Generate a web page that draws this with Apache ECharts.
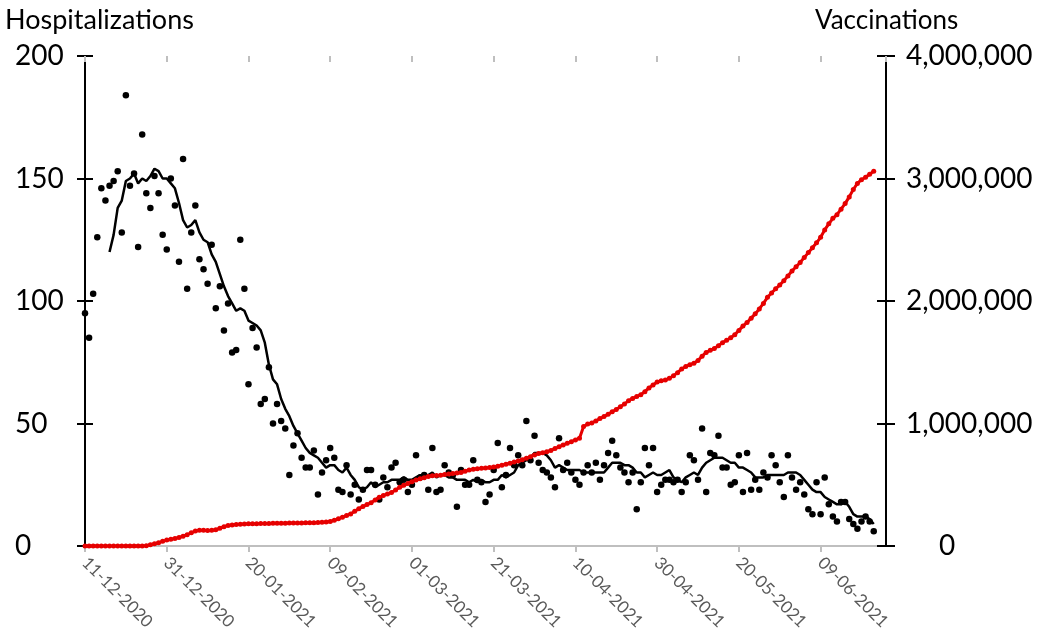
<!DOCTYPE html>
<html>
<head>
<meta charset="utf-8">
<script src="https://cdn.jsdelivr.net/npm/echarts@6/dist/echarts.min.js"></script>
<style>html,body{margin:0;padding:0;background:#fff}#c{width:1046px;height:635px}</style>
</head>
<body>
<div id="c"></div>
<script>
// x tick labels (every 20 days starting 11-12-2020)
var tickLabels = ['11-12-2020','31-12-2020','20-01-2021','09-02-2021','01-03-2021','21-03-2021','10-04-2021','30-04-2021','20-05-2021','09-06-2021'];

// daily hospitalizations, day 0 = 11-12-2020
var hospitalizations = [
95,85,103,126,146,141,147,149,153,128,184,147,152,122,168,144,138,151,144,127,
121,150,139,116,158,105,128,139,117,113,107,123,97,106,88,99,79,80,125,105,
66,89,81,58,60,73,50,58,51,48,29,41,46,36,32,32,39,21,30,35,
40,36,23,22,33,21,25,19,23,31,31,25,19,28,24,32,34,26,27,22,
25,37,28,29,23,40,22,23,33,30,29,16,31,25,25,35,27,26,18,21,
31,42,24,29,40,33,37,33,51,35,45,34,31,30,28,24,44,31,34,30,
27,25,30,33,30,34,27,33,38,43,37,32,30,26,30,15,26,40,33,40,
22,25,27,27,26,27,22,26,37,35,27,48,22,38,37,45,32,32,25,26,
37,22,38,23,27,23,30,28,37,33,26,20,37,28,23,26,21,15,13,26,
13,28,17,12,10,18,18,11,9,7,10,12,10,6
];

// 7-day moving average of hospitalizations (starts day 6)
var movingAverage = [
null,null,null,null,null,null,
120,127,138,141,149,150,152,148,150,149,151,154,153,150,
150,148,146,140,133,130,131,133,128,125,124,119,116,111,106,102,99,96,97,96,
92,91,90,88,83,74,68,66,60,56,53,49,46,43,40,38,37,36,34,32,
33,33,31,30,32,29,27,24,23,24,26,24,25,26,26,27,27,27,28,27,
27,28,29,28,29,30,28,29,29,28,28,27,27,27,26,27,26,27,26,26,
27,27,29,28,29,30,33,34,35,36,38,38,38,37,35,32,33,32,31,31,
31,31,30,30,30,30,30,30,32,34,34,34,33,33,32,30,30,28,29,30,
29,29,30,31,28,27,26,28,29,30,29,32,34,35,36,36,36,35,34,34,
32,32,31,30,28,28,28,29,29,29,29,29,30,30,30,29,27,25,23,22,
22,20,19,18,17,17,18,16,13,12,12,12,11,9
];

// cumulative vaccinations
var vaccinations = [
0,0,0,0,0,0,0,0,0,0,0,0,0,0,0,
3000,10000,18000,27000,38000,48000,55000,62000,70000,80000,92000,108000,122000,128000,128000,
127000,128000,132000,145000,158000,168000,172000,176000,178000,180000,
181000,182000,182000,183000,183000,184000,185000,185000,186000,186000,
187000,187000,188000,188000,189000,189000,190000,192000,194000,196000,
200000,210000,222000,235000,248000,262000,283000,305000,322000,338000,
353000,375000,397000,412000,425000,437000,458000,479000,495000,510000,
525000,538000,549000,558000,568000,573000,576000,578000,583000,588000,
592000,595000,600000,610000,620000,626000,631000,634000,637000,640000,
645000,652000,660000,668000,676000,685000,694000,705000,717000,729000,
743000,755000,762000,770000,780000,795000,810000,825000,838000,852000,
866000,880000,975000,995000,1005000,1020000,1040000,1057000,1075000,1095000,
1115000,1137000,1160000,1185000,1205000,1220000,1235000,1260000,1290000,1315000,
1338000,1348000,1355000,1370000,1390000,1415000,1445000,1465000,1480000,1492000,
1515000,1550000,1580000,1598000,1612000,1635000,1660000,1680000,1700000,1725000,
1760000,1795000,1825000,1860000,1895000,1935000,1980000,2030000,2065000,2100000,
2130000,2165000,2205000,2245000,2280000,2315000,2355000,2395000,2435000,2475000,
2520000,2580000,2630000,2675000,2705000,2750000,2795000,2850000,2910000,2960000,
2990000,3010000,3035000,3060000
];

function pairs(arr){ var out=[]; for(var i=0;i<arr.length;i++){ out.push([i, arr[i]]); } return out; }

var FONT = 'Lato';
var LBL = 28;
var chart = echarts.init(document.getElementById('c'), null, {renderer:'canvas'});
var xCommon = { type:'value', min:0, max:196, interval:20, splitLine:{show:false} };
var option = {
  animation:false,
  backgroundColor:'#fff',
  grid:{ left:85, right:160, top:56, bottom:89, containLabel:false },
  graphic:[
    { type:'text', left:5, top:7, style:{ text:'Hospitalizations', font:'27px '+FONT, fill:'#000' } },
    { type:'text', left:815, top:8, style:{ text:'Vaccinations', font:'26px '+FONT, fill:'#000' } }
  ],
  xAxis:[
    Object.assign({}, xCommon, {
      axisLine:{ show:true, onZero:false, lineStyle:{ color:'#bfbfbf', width:2 } },
      axisTick:{ show:true, length:6, lineStyle:{ color:'#bfbfbf', width:2 } },
      axisLabel:{ show:true, rotate:-45, margin:14, color:'#595959', fontFamily:FONT, fontSize:17,
        showMaxLabel:false,
        formatter:function(v){ var k=v/20; return (k===Math.round(k) && tickLabels[k]) ? tickLabels[k] : ''; } }
    }),
    Object.assign({}, xCommon, {
      axisLine:{ show:false, onZero:false },
      axisTick:{ show:true, inside:true, length:6, lineStyle:{ color:'#bfbfbf', width:2 } },
      axisLabel:{ show:false }
    })
  ],
  yAxis:[
    { type:'value', position:'left', min:0, max:200, interval:50, splitLine:{show:false},
      axisLine:{ show:true, onZero:false, lineStyle:{ color:'#000', width:2 } },
      axisTick:{ show:true, length:8, lineStyle:{ color:'#000', width:2 } },
      axisLabel:{ color:'#000', fontFamily:FONT, fontSize:LBL, align:'left', margin:70 } },
    { type:'value', position:'right', min:0, max:4000000, interval:1000000, splitLine:{show:false},
      axisLine:{ show:true, onZero:false, lineStyle:{ color:'#000', width:2 } },
      axisTick:{ show:true, length:9, lineStyle:{ color:'#000', width:2 } },
      axisLabel:{ color:'#000', fontFamily:FONT, fontSize:LBL, align:'left', margin:20,
        formatter:function(v){ return v===0 ? '{z|0}' : echarts.format.addCommas(v); },
        rich:{ z:{ fontFamily:FONT, fontSize:LBL, color:'#000', padding:[0,0,0,33] } } } },
    { type:'value', position:'left', min:0, max:200, interval:50, splitLine:{show:false},
      axisLine:{ show:false, onZero:false }, axisLabel:{show:false},
      axisTick:{ show:true, inside:true, length:8, lineStyle:{ color:'#000', width:2 } } },
    { type:'value', position:'right', min:0, max:4000000, interval:1000000, splitLine:{show:false},
      axisLine:{ show:false, onZero:false }, axisLabel:{show:false},
      axisTick:{ show:true, inside:true, length:9, lineStyle:{ color:'#000', width:2 } } }
  ],
  series:[
    { name:'Hospitalizations', type:'scatter', xAxisIndex:0, yAxisIndex:0, data:pairs(hospitalizations),
      symbol:'circle', symbolSize:6.5, itemStyle:{ color:'#000', opacity:1 }, z:3 },
    { name:'7-day average', type:'line', xAxisIndex:0, yAxisIndex:0, data:pairs(movingAverage),
      showSymbol:false, connectNulls:false, lineStyle:{ color:'#000', width:2.5 }, z:4 },
    { name:'Vaccinations', type:'line', xAxisIndex:0, yAxisIndex:1, data:pairs(vaccinations),
      symbol:'circle', symbolSize:5, showSymbol:true, itemStyle:{ color:'#e60000' },
      lineStyle:{ color:'#e60000', width:3 }, z:5 }
  ]
};
chart.setOption(option);
</script>
</body>
</html>
